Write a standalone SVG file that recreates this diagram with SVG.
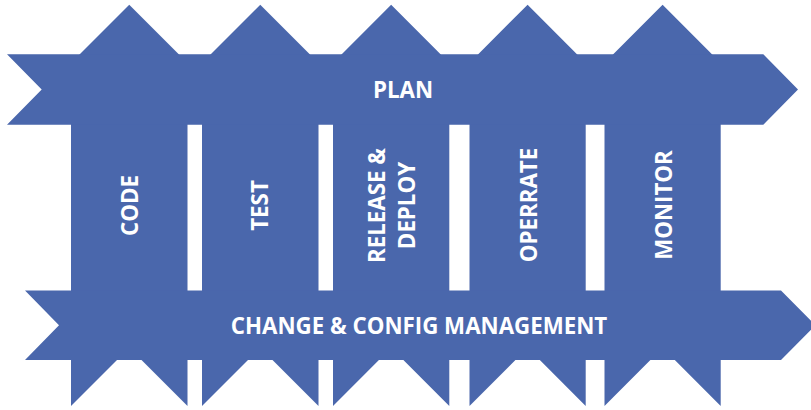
<svg xmlns="http://www.w3.org/2000/svg" width="811" height="410" viewBox="0 0 811 410">
  <style>
    .shape { fill: #4A67AC; }
    .lbl { fill: #FFFFFF; font-family: "Open Sans", "Liberation Sans", sans-serif; font-weight: 700; font-size: 22.3px; text-anchor: middle; }
  </style>
  <rect width="811" height="410" fill="#FFFFFF"/>
  <g id="code">
    <polygon class="shape" points="129.25,4.7 187.5,62.9 187.5,406 129.25,347.8 71,406 71,62.9"/>
    <text class="lbl" transform="translate(137.7,205.5) rotate(-90)">CODE</text>
  </g>
  <g id="test">
    <polygon class="shape" points="260.25,4.7 318.5,62.9 318.5,406 260.25,347.8 202,406 202,62.9"/>
    <text class="lbl" transform="translate(268.3,205.5) rotate(-90)">TEST</text>
  </g>
  <g id="release-deploy">
    <polygon class="shape" points="391.15,4.7 449.3,62.9 449.3,406 391.15,347.8 333,406 333,62.9"/>
    <text class="lbl" transform="translate(384.8,205.5) rotate(-90)">RELEASE &amp;</text>
    <text class="lbl" transform="translate(415.4,205.5) rotate(-90)">DEPLOY</text>
  </g>
  <g id="operrate">
    <polygon class="shape" points="527.6,4.7 585.7,62.9 585.7,406 527.6,347.8 469.5,406 469.5,62.9"/>
    <text class="lbl" transform="translate(536.9,205) rotate(-90)">OPERRATE</text>
  </g>
  <g id="monitor">
    <polygon class="shape" points="662.6,4.7 720.7,62.9 720.7,406 662.6,347.8 604.5,406 604.5,62.9"/>
    <text class="lbl" transform="translate(671.9,205) rotate(-90)">MONITOR</text>
  </g>
  <g id="plan">
    <polygon class="shape" points="7,54.3 763.3,54.3 798,89.6 763.3,124.8 7,124.8 41.7,89.6"/>
    <text class="lbl" x="403" y="97.5">PLAN</text>
  </g>
  <g id="change-config-management">
    <polygon class="shape" points="25,290.5 781,290.5 815.5,325.3 781,360 25,360 59,325.3"/>
    <text class="lbl" x="419" y="333.5">CHANGE &amp; CONFIG MANAGEMENT</text>
  </g>
  <g id="connectors"/>
</svg>
